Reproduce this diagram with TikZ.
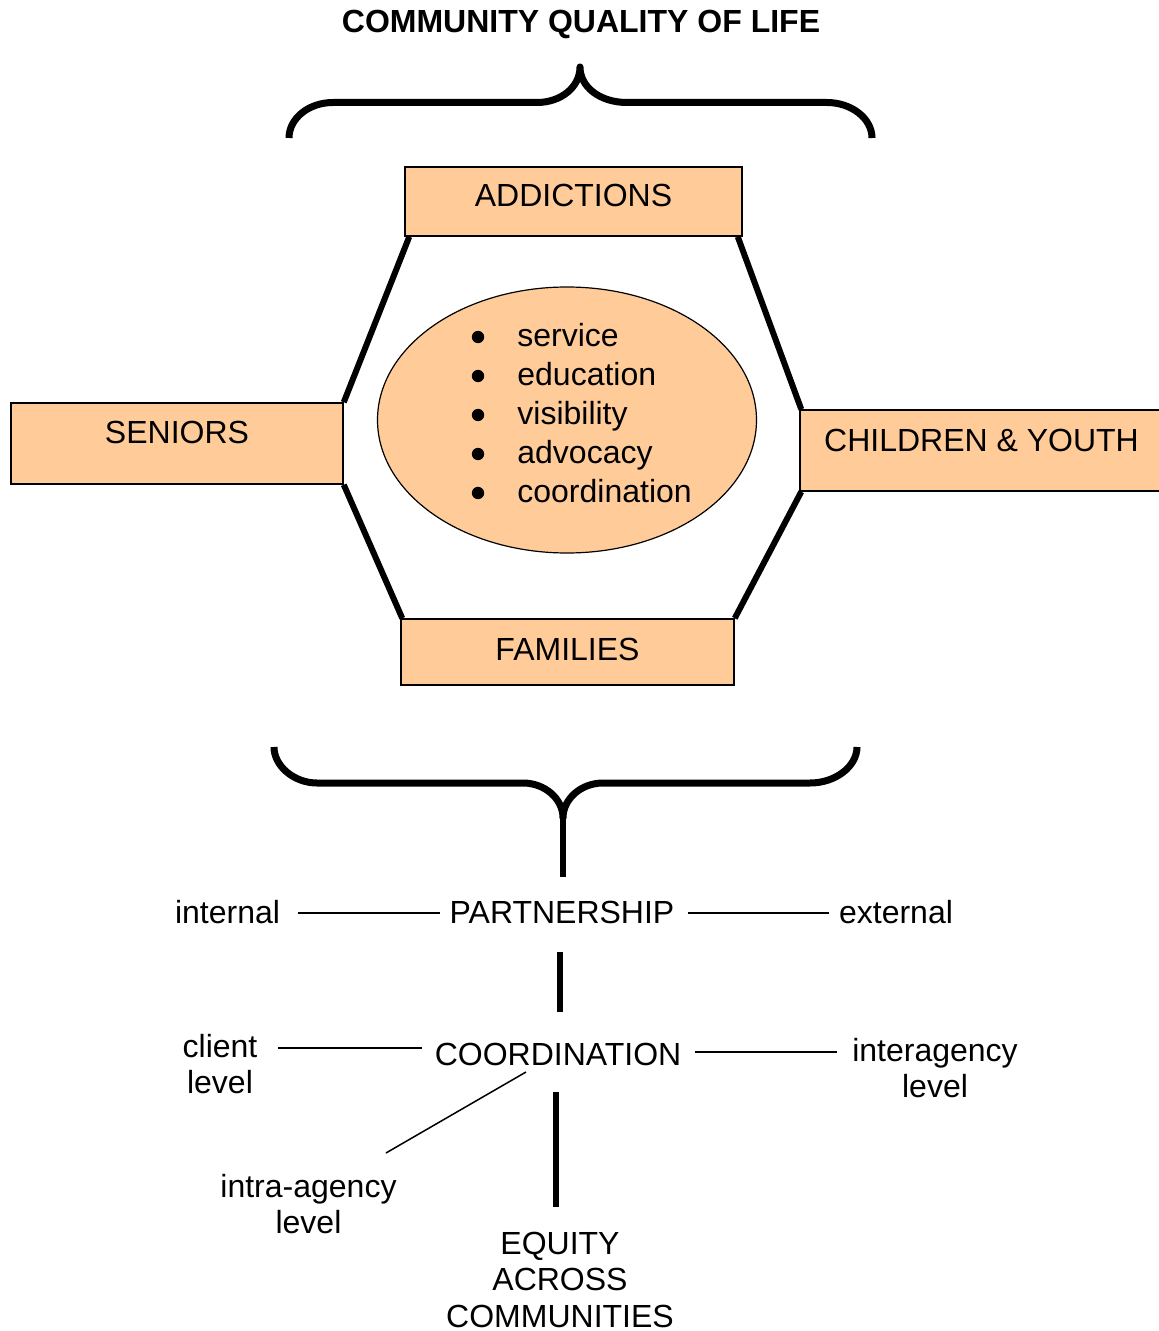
\documentclass[tikz,border=0pt]{standalone}
\usepackage{fontspec}
\setmainfont{Liberation Sans}
\usetikzlibrary{shapes.geometric,backgrounds}
\definecolor{peach}{HTML}{FFCC99}
\begin{document}
\begin{tikzpicture}[x=0.5pt,y=-0.5pt,
  every node/.style={font=\fontsize{16}{18.25}\selectfont, inner sep=0pt},
  box/.style={draw, line width=0.75pt, fill=peach, text height=11.4pt},
  bracestyle/.style={line width=3.5pt, line join=round},
  hexline/.style={line width=3pt},
  thinline/.style={line width=0.75pt},
  thickline/.style={line width=3pt},
  bulletdot/.style={circle, fill=black, minimum size=6.2pt},
  lbl/.style={anchor=base},
  twoline/.style={anchor=base}]
\path[use as bounding box] (0,0) rectangle (1159,1331);

% title
\node[lbl, font=\fontsize{16}{18.25}\selectfont\bfseries] (title) at (581,33) {COMMUNITY QUALITY OF LIFE};

% top brace
\draw[bracestyle] (289,138) .. controls (289,118.4) and (308.7,102.5) .. (333,102.5)
  -- (537,102.5) .. controls (561,102.5) and (580,87) .. (580,67)
  .. controls (580,87) and (600,102.5) .. (627,102.5)
  -- (827,102.5) .. controls (851.3,102.5) and (872,118.4) .. (872,138);

% boxes
\node[box, minimum width=168.5pt, minimum height=34.5pt, text depth=6pt] (add) at (573.5,201.5) {ADDICTIONS};
\node[box, minimum width=166pt, minimum height=40.5pt, text depth=11.5pt] (sen) at (177,443.5) {SENIORS};
\node[box, minimum width=181.5pt, minimum height=40.5pt, text depth=10.5pt] (chy) at (981.5,450.5) {CHILDREN \& YOUTH};
\node[box, minimum width=166.5pt, minimum height=33pt, text depth=3pt] (fam) at (567.5,652) {FAMILIES};

\begin{scope}[on background layer]
  \draw[hexline] ([xshift=2.5pt]add.south west) -- (sen.north east);
  \draw[hexline] ([xshift=-2.5pt]add.south east) -- ([xshift=1pt]chy.north west);
  \draw[hexline] (sen.south east) -- ([xshift=1pt]fam.north west);
  \draw[hexline] ([xshift=1pt]chy.south west) -- (fam.north east);
\end{scope}

% centre ellipse
\node[ellipse, draw, line width=0.6pt, fill=peach, minimum width=189.5pt, minimum height=133pt] (core) at (567,420) {};
\node[anchor=base west, font=\fontsize{16}{19.5}\selectfont] (list) at (517,347)
  {\begin{tabular}[t]{@{}l@{}}
   service\\
   education\\
   visibility\\
   advocacy\\
   coordination
   \end{tabular}};
\foreach \k in {0,...,4}
  \node[bulletdot] (bul\k) at (478,{337+39*\k}) {};

% bottom brace
\draw[bracestyle] (274,747) .. controls (274,766) and (294,783) .. (317,783)
  -- (523,783) .. controls (545,783) and (563,799) .. (563,818)
  .. controls (563,799) and (581,783) .. (603,783)
  -- (810,783) .. controls (836,783) and (857,766) .. (857,747);
\coordinate (btip) at (563,818);

% lower labels
\node[lbl] (internal) at (227.5,923) {internal};
\node[lbl] (partner) at (562,923) {PARTNERSHIP};
\node[lbl] (external) at (896,923) {external};
\node[lbl] (coord) at (558,1065) {COORDINATION};
\node[twoline] (client) at (220,1057) {\begin{tabular}[t]{@{}c@{}}client\\level\end{tabular}};
\node[twoline] (inter) at (935,1061) {\begin{tabular}[t]{@{}c@{}}interagency\\level\end{tabular}};
\node[twoline] (intra) at (308.5,1197) {\begin{tabular}[t]{@{}c@{}}intra-agency\\level\end{tabular}};
\node[twoline] (equity) at (560,1254) {\begin{tabular}[t]{@{}c@{}}EQUITY\\ACROSS\\COMMUNITIES\end{tabular}};

% connectors
\draw[thickline] (btip) -- ([yshift=23pt,xshift=0.5pt]partner.base);
\draw[thinline] ([xshift=9pt,yshift=5pt]internal.base east) -- ([xshift=-4.5pt,yshift=5pt]partner.base west);
\draw[thinline] ([xshift=6.5pt,yshift=5pt]partner.base east) -- ([xshift=-5pt,yshift=5pt]external.base west);
\draw[thickline] ([xshift=-1pt,yshift=-14.5pt]partner.base) -- ([xshift=1pt,yshift=26.5pt]coord.base);
\draw[thinline] ([xshift=10pt,yshift=4.5pt]client.base east) -- ([xshift=-6pt,yshift=8.5pt]coord.base west);
\draw[thinline] ([xshift=6.5pt,yshift=6.5pt]coord.base east) -- ([xshift=-7.5pt,yshift=4.5pt]inter.base west);
\draw[thinline] ([xshift=-16pt,yshift=-3.5pt]coord.base) -- ([xshift=-5.5pt,yshift=22pt]intra.base east);
\draw[thickline] ([xshift=-1pt,yshift=-13.5pt]coord.base) -- ([xshift=-2pt,yshift=23.5pt]equity.base);
\end{tikzpicture}
\end{document}
